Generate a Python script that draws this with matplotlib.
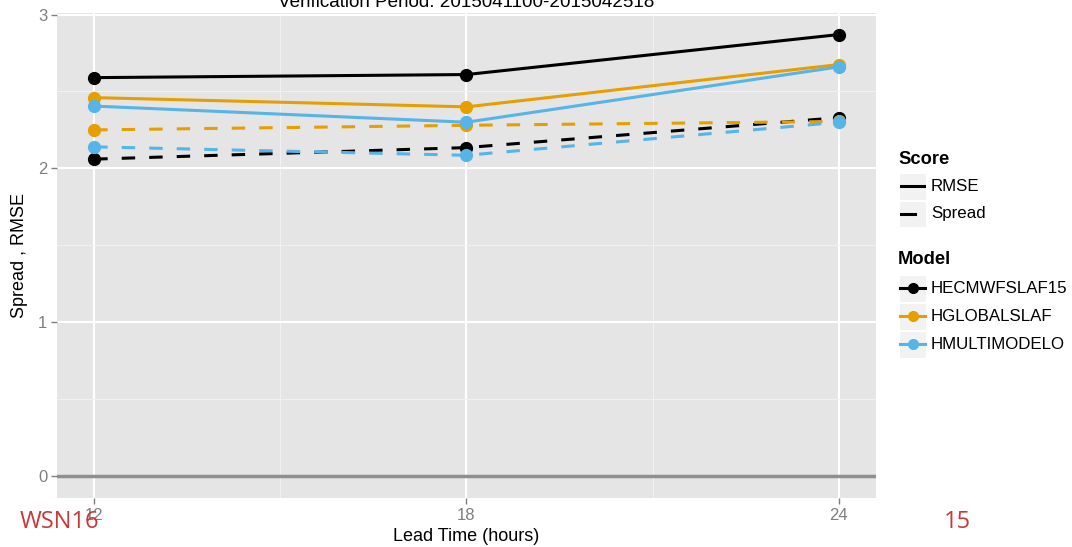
import matplotlib
matplotlib.use("Agg")
import matplotlib.pyplot as plt
from matplotlib.lines import Line2D
from matplotlib.patches import Rectangle

# Verification scores per lead time
lead_times = [12, 18, 24]
models = ["HECMWFSLAF15", "HGLOBALSLAF", "HMULTIMODELO"]
model_colors = ["#000000", "#E69F00", "#56B4E9"]
scores = ["RMSE", "Spread"]

rmse_ecmwf = [2.59, 2.61, 2.87]
rmse_global = [2.46, 2.40, 2.675]
rmse_multi = [2.405, 2.30, 2.66]

spread_ecmwf = [2.06, 2.135, 2.33]
spread_global = [2.25, 2.28, 2.305]
spread_multi = [2.14, 2.085, 2.30]

rmse = [rmse_ecmwf, rmse_global, rmse_multi]
spread = [spread_ecmwf, spread_global, spread_multi]

title = "Verification Period: 2015041100-2015042518"

W, H = 1072, 547
plt.rcParams["font.family"] = ["Liberation Sans", "DejaVu Sans"]
fig = plt.figure(figsize=(W / 100, H / 100), dpi=100)

# Panel geometry (pixels)
pl, pr, pt, pb = 57, 876, 12.5, 498
ax = fig.add_axes([pl / W, 1 - pb / H, (pr - pl) / W, (pb - pt) / H])
ax.set_facecolor("#E5E5E5")
for s in ax.spines.values():
    s.set_visible(False)

# ggplot-like expansion of 5% on each side
xmin, xmax = min(lead_times), max(lead_times)
xr = xmax - xmin
ax.set_xlim(xmin - 0.05 * xr, xmax + 0.05 * xr)
all_y = [v for s in rmse + spread for v in s] + [0]
ymin, ymax = min(all_y), max(all_y)
yr = ymax - ymin
ax.set_ylim(ymin - 0.05 * yr, ymax + 0.05 * yr)

ax.set_xticks(lead_times)
ax.set_xticks([15, 21], minor=True)
ax.set_yticks([0, 1, 2, 3])
ax.set_yticks([0.5, 1.5, 2.5], minor=True)
ax.grid(which="major", color="white", lw=1.5)
ax.grid(which="minor", color="#F2F2F2", lw=0.7)
ax.set_axisbelow(True)
ax.tick_params(which="major", length=4, width=1, color="#7F7F7F",
               labelcolor="#7F7F7F", labelsize=12, pad=3)
ax.tick_params(which="minor", length=0)

ax.axhline(0, color="#8F8F8F", lw=2.5, zorder=1.5)

lw = 2.2
dash = (0, (4.4, 4.6))
for c, r, sp in zip(model_colors, rmse, spread):
    ax.plot(lead_times, r, color=c, lw=lw, solid_capstyle="butt", zorder=3)
    ax.plot(lead_times, r, "o", color=c, ms=8.5, zorder=4)
    ax.plot(lead_times, sp, color=c, lw=lw, linestyle=dash, zorder=3)
    ax.plot(lead_times, sp, "o", color=c, ms=8.5, zorder=4)

ax.set_xlabel("Lead Time (hours)", fontsize=13, labelpad=4)
ax.set_ylabel("Spread , RMSE", fontsize=13, labelpad=7)

fig.text(466.5 / W, 1 - 7 / H, title, ha="center", va="baseline",
         fontsize=13.6)

# Legend drawn in figure pixel coordinates
lg = fig.add_axes([0, 0, 1, 1], facecolor="none")
lg.set_xlim(0, W)
lg.set_ylim(H, 0)
lg.axis("off")

kx, kw, kh = 899, 27, 26.5
lg.text(kx - 1, 159, "Score", fontsize=13.2, fontweight="bold", va="center")
for i, sc in enumerate(scores):
    y0 = 173 + i * 27.5
    lg.add_patch(Rectangle((kx, y0), kw, kh, facecolor="#F2F2F2", edgecolor="white", lw=0.8))
    if sc == "RMSE":
        lg.add_line(Line2D([kx + 2, kx + kw - 2], [y0 + kh / 2] * 2, color="black", lw=lw))
    else:
        lg.add_line(Line2D([kx + 2, kx + 16], [y0 + kh / 2] * 2, color="black", lw=lw))
    lg.text(kx + 32, y0 + kh / 2, sc, fontsize=12.2, va="center")

lg.text(kx - 1, 260, "Model", fontsize=13.2, fontweight="bold", va="center")
for i, (m, c) in enumerate(zip(models, model_colors)):
    y0 = 275 + i * 28
    lg.add_patch(Rectangle((kx, y0), kw, kh, facecolor="#F2F2F2", edgecolor="white", lw=0.8))
    lg.add_line(Line2D([kx + 1, kx + kw - 1], [y0 + kh / 2] * 2, color=c, lw=lw))
    lg.plot([kx + kw / 2], [y0 + kh / 2], "o", color=c, ms=7)
    lg.text(kx + 32, y0 + kh / 2, m, fontsize=12.2, va="center")

# Slide footer
red = "#C8373A"
fig.text(20 / W, 1 - 522 / H, "WSN16", color=red, fontsize=17,
         family=["Open Sans", "DejaVu Sans"], va="center", ha="left")
fig.text(957 / W, 1 - 522 / H, "15", color=red, fontsize=17,
         family=["Open Sans", "DejaVu Sans"], va="center", ha="center")

fig.savefig("out.png", dpi=100)
